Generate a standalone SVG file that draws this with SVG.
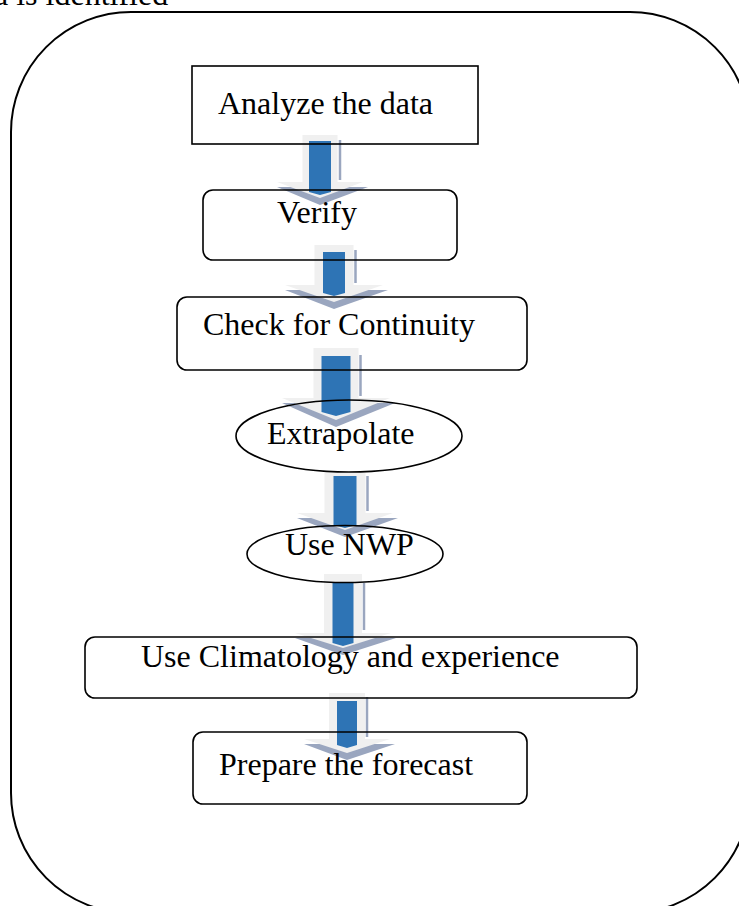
<svg xmlns="http://www.w3.org/2000/svg" width="739" height="906" viewBox="0 0 739 906">
  <style>
    text { font-family: "Liberation Serif", "Times New Roman", serif; font-size: 32px; fill: #000; }
    .box { fill: none; stroke: #000; stroke-width: 1.6; }
    .frame { fill: none; stroke: #000; stroke-width: 2; }
    .body { fill: #f0f0f0; }
    .shade { fill: #9aa6bf; }
    .shadeline { stroke: #9aa6bf; stroke-width: 2.5; }
    .core { fill: #2e74b5; }
  </style>
  <rect width="739" height="906" fill="#fff"/>

  <!-- caption line cut at the top edge -->
  <text x="-6" y="5">a is identified</text>

  <!-- outer rounded frame -->
  <path class="frame" d="M11,132 A120,120 0 0 1 131,12 L630,12 A120,120 0 0 1 750,132 L750,793 A120,120 0 0 1 630,913 L131,913 A120,120 0 0 1 11,793 Z"/>

  <!-- block arrows between steps -->
  <g id="connectors">
    <g id="arrow1">
      <polygon class="shade" points="277,187 368,187 320,205"/>
      <line class="shadeline" x1="340" y1="140" x2="340" y2="180"/>
      <polygon class="body" points="302.5,135 337.5,135 337.5,182 363,182 320,198 277,182 302.5,182"/>
      <polygon class="core" points="309,141 331,141 331,192 320,195 309,192"/>
    </g>
    <g id="arrow2">
      <polygon class="shade" points="285,290 388,290 334,309"/>
      <line class="shadeline" x1="355.5" y1="250" x2="355.5" y2="283"/>
      <polygon class="body" points="314.5,245 353.5,245 353.5,285 383,285 334,302 285,285 314.5,285"/>
      <polygon class="core" points="323,252 345,252 345,293 334,296 323,293"/>
    </g>
    <g id="arrow3">
      <polygon class="shade" points="282,403 395,403 336,427"/>
      <line class="shadeline" x1="360.5" y1="355" x2="360.5" y2="396"/>
      <polygon class="body" points="313.5,348 358.5,348 358.5,398 390,398 336,420 282,398 313.5,398"/>
      <polygon class="core" points="321.5,356 350.5,356 350.5,412 336,416 321.5,412"/>
    </g>
    <g id="arrow4">
      <polygon class="shade" points="297,518 398,518 345,537"/>
      <line class="shadeline" x1="367.5" y1="476" x2="367.5" y2="511"/>
      <polygon class="body" points="324.5,473 365.5,473 365.5,513 393,513 345,530 297,513 324.5,513"/>
      <polygon class="core" points="333.5,476 356.5,476 356.5,525 345,528 333.5,525"/>
    </g>
    <g id="arrow5">
      <polygon class="shade" points="295,638 396,638 343,655"/>
      <line class="shadeline" x1="364" y1="583" x2="364" y2="630"/>
      <polygon class="body" points="324,574 362,574 362,633 391,633 343,648 295,633 324,633"/>
      <polygon class="core" points="332.5,582 353.5,582 353.5,643 343,646 332.5,643"/>
    </g>
    <g id="arrow6">
      <polygon class="shade" points="304,744 395,744 347,760"/>
      <line class="shadeline" x1="367" y1="697" x2="367" y2="737"/>
      <polygon class="body" points="329,693 365,693 365,739 390,739 347,753 304,739 329,739"/>
      <polygon class="core" points="337,701 357,701 357,745 347,748 337,745"/>
    </g>
  </g>

  <!-- process steps -->
  <g id="analyze">
    <rect class="box" x="192" y="66" width="286" height="78"/>
    <text x="218" y="114">Analyze the data</text>
  </g>
  <g id="verify">
    <rect class="box" x="203" y="190" width="254" height="70" rx="10"/>
    <text x="277" y="223">Verify</text>
  </g>
  <g id="continuity">
    <rect class="box" x="177" y="297" width="350" height="73" rx="10"/>
    <text x="203" y="335">Check for Continuity</text>
  </g>
  <g id="extrapolate">
    <ellipse class="box" cx="349" cy="436" rx="113" ry="36"/>
    <text x="267" y="444">Extrapolate</text>
  </g>
  <g id="nwp">
    <ellipse class="box" cx="345" cy="554" rx="98" ry="28.5"/>
    <text x="285" y="555">Use NWP</text>
  </g>
  <g id="climatology">
    <rect class="box" x="85" y="637" width="552" height="61" rx="10"/>
    <text x="141" y="667">Use Climatology and experience</text>
  </g>
  <g id="forecast">
    <rect class="box" x="193" y="732" width="334" height="72" rx="10"/>
    <text x="219" y="775">Prepare the forecast</text>
  </g>
</svg>
